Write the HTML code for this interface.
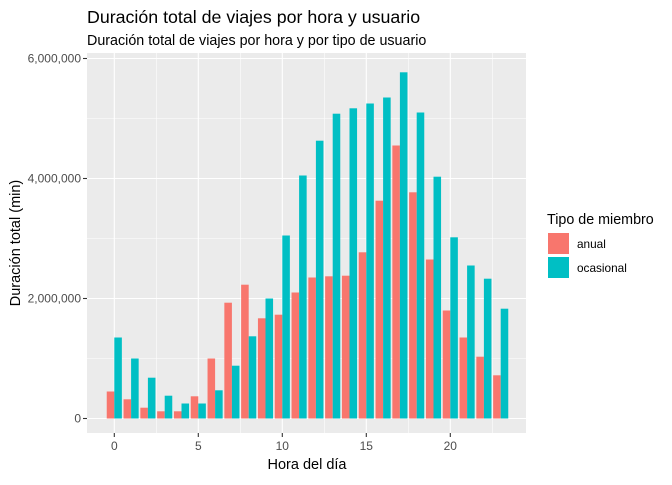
<!DOCTYPE html>
<html><head><meta charset="utf-8"><style>
body{margin:0;background:#fff;font-family:"Liberation Sans",sans-serif;}
svg text{font-family:"Liberation Sans",sans-serif;}
</style></head><body>
<svg id="chart" width="672" height="480" xmlns="http://www.w3.org/2000/svg">
<rect width="672" height="480" fill="#fff"/>
<text x="87" y="23" font-size="17.8" fill="#000">Duración total de viajes por hora y usuario</text>
<text x="87" y="45" font-size="14.3" fill="#000">Duración total de viajes por hora y por tipo de usuario</text>
<rect x="87" y="53" width="439" height="380" fill="#ebebeb"/>
<g id="grid"></g>
<g id="bars"></g>
<g id="axes"></g>
<text x="307" y="469" font-size="14.5" text-anchor="middle" fill="#000">Hora del día</text>
<text transform="translate(20,243) rotate(-90)" font-size="14.5" text-anchor="middle" fill="#000">Duración total (min)</text>
<g>
<text x="547" y="224" font-size="14.3" fill="#000">Tipo de miembro</text>
<rect x="548" y="233" width="21" height="21" fill="#F8766D"/>
<text x="577" y="248" font-size="11.8" fill="#000">anual</text>
<rect x="548" y="257" width="21" height="21" fill="#00BFC4"/>
<text x="577" y="272" font-size="11.8" fill="#000">ocasional</text>
</g>
</svg>
<script>
const hours = [0,1,2,3,4,5,6,7,8,9,10,11,12,13,14,15,16,17,18,19,20,21,22,23];
const anual = [450000,320000,180000,120000,120000,370000,1000000,1930000,2230000,1670000,1730000,2100000,2350000,2370000,2380000,2770000,3630000,4550000,3770000,2650000,1800000,1350000,1030000,720000];
const ocasional = [1350000,1000000,680000,380000,250000,250000,470000,880000,1370000,2000000,3050000,4050000,4630000,5080000,5170000,5250000,5350000,5770000,5100000,4030000,3020000,2550000,2330000,1830000];
const yTicks = [0,2000000,4000000,6000000];
const yTickLabels = ["0","2,000,000","4,000,000","6,000,000"];
const xTicks = [0,5,10,15,20];
const NS="http://www.w3.org/2000/svg";
const x = h => 114.3 + h*16.8;
const y = v => 418.5 - v/1000000*60;
function mk(t,a,p){const e=document.createElementNS(NS,t);for(const k in a)e.setAttribute(k,a[k]);p.appendChild(e);return e;}
const grid=document.getElementById('grid'),bars=document.getElementById('bars'),axes=document.getElementById('axes');
for(let i=0;i<yTicks.length-1;i++){const m=(yTicks[i]+yTicks[i+1])/2;
 const l=mk('line',{x1:87,x2:526,y1:y(m),y2:y(m),stroke:'#fff','stroke-width':0.55},grid);
 
 }
for(let h=-2.5;h<=25;h+=5){if(x(h)<87||x(h)>526)continue;
 const l=mk('line',{x1:x(h),x2:x(h),y1:53,y2:433,stroke:'#fff','stroke-width':0.55},grid);
 
 }
yTicks.forEach((v,i)=>{
 const l=mk('line',{x1:87,x2:526,y1:y(v),y2:y(v),stroke:'#fff','stroke-width':1.1},grid);
 
 
 const t=mk('line',{x1:83,x2:87,y1:y(v),y2:y(v),stroke:'#333','stroke-width':1.1},axes);
 
 
 const tx=mk('text',{x:81,y:y(v)+4,'font-size':12,'text-anchor':'end',fill:'#4d4d4d'},axes);
 tx.textContent=yTickLabels[i];
 
 });
xTicks.forEach(h=>{
 const l=mk('line',{x1:x(h),x2:x(h),y1:53,y2:433,stroke:'#fff','stroke-width':1.1},grid);
 
 
 const t=mk('line',{x1:x(h),x2:x(h),y1:433,y2:437,stroke:'#333','stroke-width':1.1},axes);
 
 
 const tx=mk('text',{x:x(h),y:450,'font-size':12,'text-anchor':'middle',fill:'#4d4d4d'},axes);
 tx.textContent=h;
 
 });
const bw=16.8*0.45;
hours.forEach((h,i)=>{
 const a=mk('rect',{x:x(h)-bw,y:y(anual[i]),width:bw,height:y(0)-y(anual[i]),fill:'#F8766D'},bars);
 
 
 const o=mk('rect',{x:x(h),y:y(ocasional[i]),width:bw,height:y(0)-y(ocasional[i]),fill:'#00BFC4'},bars);
 
 });
</script>
</body></html>
